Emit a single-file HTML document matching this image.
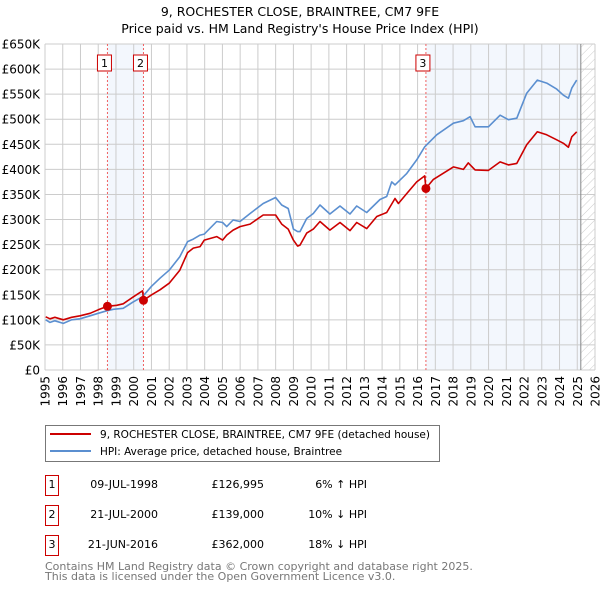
<!DOCTYPE html>
<html><head><meta charset="utf-8">
<style>
body{margin:0;background:#fff;font-family:"DejaVu Sans","Liberation Sans",sans-serif;}
#wrap{position:relative;width:600px;height:590px;overflow:hidden;}
svg text{font-family:"DejaVu Sans","Liberation Sans",sans-serif;}
</style></head>
<body>
<div id="wrap">
<svg id="chart" width="600" height="590"></svg>
</div>
<script>
const yTicks=[0,50,100,150,200,250,300,350,400,450,500,550,600,650];
const yTickLabels=["£0","£50K","£100K","£150K","£200K","£250K","£300K","£350K","£400K","£450K","£500K","£550K","£600K","£650K"];
const xYears=[1995,1996,1997,1998,1999,2000,2001,2002,2003,2004,2005,2006,2007,2008,2009,2010,2011,2012,2013,2014,2015,2016,2017,2018,2019,2020,2021,2022,2023,2024,2025,2026];
const hpiYears=[1995.04,1995.28,1995.56,1996.03,1996.5,1996.97,1997.54,1998.0,1998.48,1998.85,1999.41,1999.98,2000.49,2001.01,2001.48,2002.0,2002.6,2003.04,2003.36,2003.74,2003.98,2004.68,2005.01,2005.24,2005.6,2005.99,2006.56,2007.3,2008.0,2008.34,2008.71,2009.0,2009.24,2009.37,2009.75,2010.12,2010.5,2011.06,2011.63,2012.19,2012.57,2013.13,2013.88,2014.26,2014.54,2014.73,2015.39,2015.95,2016.4,2017.08,2018.02,2018.58,2018.96,2019.24,2019.99,2020.65,2021.12,2021.59,2022.15,2022.75,2023.28,2023.84,2024.22,2024.5,2024.69,2024.97];
const hpiValues=[100,95,98,93,100,102,108,113,118,121,123,136,146,167,183,199,226,256,261,269,271,296,294,286,299,296,312,332,344,329,322,281,276,276,302,312,329,311,327,311,327,314,340,346,375,369,392,419,445,469,492,497,505,485,485,508,499,502,552,578,572,560,548,542,562,578];
const redYears=[1995.04,1995.28,1995.56,1996.03,1996.5,1996.97,1997.54,1998.0,1998.52,1999.04,1999.41,1999.98,2000.5,2000.55,2001.01,2001.48,2002.0,2002.6,2003.04,2003.36,2003.74,2003.98,2004.68,2005.01,2005.24,2005.6,2005.99,2006.56,2007.3,2008.0,2008.34,2008.71,2009.0,2009.24,2009.37,2009.75,2010.12,2010.5,2011.06,2011.63,2012.19,2012.57,2013.13,2013.7,2014.26,2014.73,2014.92,2015.39,2015.95,2016.4,2016.47,2016.89,2018.02,2018.58,2018.86,2019.24,2019.99,2020.65,2021.12,2021.59,2022.15,2022.75,2023.28,2023.84,2024.22,2024.5,2024.69,2024.97];
const redValues=[106,102,105,100,105,108,113,120,127,129,132,146,158,139,150,160,173,199,234,243,246,259,266,259,269,279,286,291,309,309,291,281,259,247,249,273,281,296,279,294,278,294,282,306,314,342,332,352,375,387,362,380,405,400,413,399,398,415,409,412,449,475,469,459,452,444,465,475];
const sales=[{n:"1",year:1998.52,value:126.995},{n:"2",year:2000.55,value:139},{n:"3",year:2016.47,value:362}];

const svg=document.getElementById('chart');
const NS="http://www.w3.org/2000/svg";
const L=45,R=595,T=44,B=370;
const xs=y=>L+(y-1995)/(2026-1995)*(R-L);
const ys=v=>B-v/650*(B-T);
function mk(tag,attrs,parent){const e=document.createElementNS(NS,tag);for(const k in attrs)e.setAttribute(k,attrs[k]);(parent||svg).appendChild(e);return e;}

let t=mk('text',{x:300,y:16,'text-anchor':'middle','font-size':12.5,fill:'#000'});t.textContent="9, ROCHESTER CLOSE, BRAINTREE, CM7 9FE";

t=mk('text',{x:300,y:33,'text-anchor':'middle','font-size':12.5,fill:'#000'});t.textContent="Price paid vs. HM Land Registry's House Price Index (HPI)";


let r=mk('rect',{x:xs(sales[0].year),y:T,width:xs(sales[1].year)-xs(sales[0].year),height:B-T,fill:'#eef3fc',opacity:0.7});

r=mk('rect',{x:xs(sales[2].year),y:T,width:xs(2025.2)-xs(sales[2].year),height:B-T,fill:'#eef3fc',opacity:0.7});

const defs=mk('defs',{});
const pat=mk('pattern',{id:'hatch',width:6,height:6,patternUnits:'userSpaceOnUse',patternTransform:'rotate(45)'},defs);
mk('line',{x1:0,y1:0,x2:0,y2:6,stroke:'#ccc','stroke-width':1},pat);
r=mk('rect',{x:xs(2025.2),y:T,width:R-xs(2025.2),height:B-T,fill:'url(#hatch)'});


yTicks.forEach((v,i)=>{
 const g=mk('line',{x1:L,x2:R,y1:ys(v),y2:ys(v),stroke:'#ccc','stroke-width':1});
 
 const lb=mk('text',{x:40,y:ys(v)+4.5,'text-anchor':'end','font-size':12,fill:'#000'});lb.textContent=yTickLabels[i];
 
});
xYears.forEach(yr=>{
 const g=mk('line',{x1:xs(yr),x2:xs(yr),y1:T,y2:B,stroke:'#ccc','stroke-width':1});
 
 const lb=mk('text',{x:0,y:0,'text-anchor':'end','font-size':12,fill:'#000',transform:`translate(${xs(yr)+4.5},376) rotate(-90)`});lb.textContent=yr;
 
});
const nowL=mk('line',{x1:xs(2025.2),x2:xs(2025.2),y1:T,y2:B,stroke:'#888','stroke-width':1});


sales.forEach(s=>{
 const l=mk('line',{x1:xs(s.year),x2:xs(s.year),y1:T,y2:B,stroke:'#f06060','stroke-width':1,'stroke-dasharray':'2,2'});
 
 const b=mk('rect',{x:xs(s.year)-10,y:55,width:14,height:16,fill:'#fff',stroke:'#c00','stroke-width':1});
 
 const tx=mk('text',{x:xs(s.year)-3,y:67,'text-anchor':'middle','font-size':11,fill:'#000'});tx.textContent=s.n;
 
});

function path(xa,va,color,name){
 let d=xa.map((x,i)=>(i?'L':'M')+xs(x).toFixed(1)+','+ys(va[i]).toFixed(1)).join('');
 const p=mk('path',{d:d,fill:'none',stroke:color,'stroke-width':1.6,'stroke-linejoin':'round'});
 
}
path(hpiYears,hpiValues,'#5b8fd0','hpi-line');
path(redYears,redValues,'#cc0000','price-paid-line');
sales.forEach(s=>{
 const c=mk('circle',{cx:xs(s.year),cy:ys(s.value),r:4.5,fill:'#cc0000'});
 
});

const lg=mk('g',{});
mk('rect',{x:45.5,y:425.5,width:394,height:36,fill:'#fff',stroke:'#777','stroke-width':1},lg);
mk('line',{x1:50,x2:91,y1:434,y2:434,stroke:'#cc0000','stroke-width':2},lg);
mk('line',{x1:50,x2:91,y1:451,y2:451,stroke:'#5b8fd0','stroke-width':2},lg);
t=mk('text',{x:100,y:438,'font-size':10.6,fill:'#000',textLength:330,lengthAdjust:'spacingAndGlyphs'},lg);t.textContent="9, ROCHESTER CLOSE, BRAINTREE, CM7 9FE (detached house)";

t=mk('text',{x:100,y:455,'font-size':10.6,fill:'#000',textLength:242,lengthAdjust:'spacingAndGlyphs'},lg);t.textContent="HPI: Average price, detached house, Braintree";


const rows=[["1","09-JUL-1998","£126,995","6% ↑ HPI"],["2","21-JUL-2000","£139,000","10% ↓ HPI"],["3","21-JUN-2016","£362,000","18% ↓ HPI"]];
rows.forEach((rw,i)=>{
 const y=i*30;
 const b=mk('rect',{x:45.5,y:475.5+y,width:13,height:20,fill:'#fff',stroke:'#c00','stroke-width':1});
 
 let a=mk('text',{x:52,y:488+y,'text-anchor':'middle','font-size':11,fill:'#000'});a.textContent=rw[0];
 
 a=mk('text',{x:158,y:488+y,'text-anchor':'end','font-size':11,fill:'#000'});a.textContent=rw[1];
 
 a=mk('text',{x:264,y:488+y,'text-anchor':'end','font-size':11,fill:'#000'});a.textContent=rw[2];
 
 a=mk('text',{x:367,y:488+y,'text-anchor':'end','font-size':11,fill:'#000'});a.textContent=rw[3];
 
});
t=mk('text',{x:45,y:570,'font-size':11,fill:'#777'});t.textContent="Contains HM Land Registry data © Crown copyright and database right 2025.";

t=mk('text',{x:45,y:580,'font-size':11,fill:'#777'});t.textContent="This data is licensed under the Open Government Licence v3.0.";

</script>
</body></html>
